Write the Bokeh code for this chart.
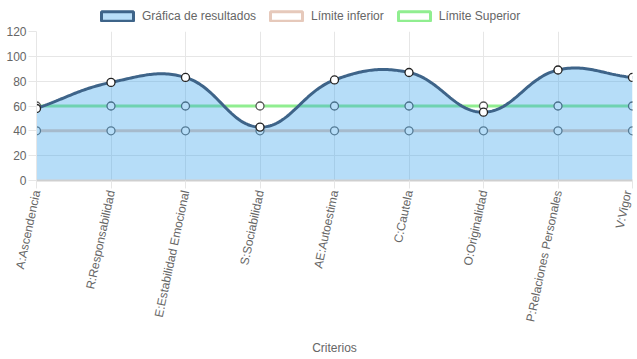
import math
from bokeh.plotting import figure
from bokeh.layouts import column
from bokeh.models import (ColumnDataSource, FixedTicker, Legend, LegendItem)
from bokeh.embed import file_html
from bokeh.resources import INLINE

categories = ["A:Ascendencia", "R:Responsabilidad", "E:Estabilidad Emocional",
              "S:Sociabilidad", "AE:Autoestima", "C:Cautela", "O:Originalidad",
              "P:Relaciones Personales", "V:Vigor"]
resultados = [58, 79, 83, 43, 81, 87, 55, 89, 83]
limite_inferior = [40, 40, 40, 40, 40, 40, 40, 40, 40]
limite_superior = [60, 60, 60, 60, 60, 60, 60, 60, 60]
y_ticks = [0, 20, 40, 60, 80, 100, 120]

FONT = "Liberation Sans"
GRID = "#e6e6e6"
TXT = "#666666"
lower_col = "#e6c9bb"
upper_col = "#90ee90"
res_col = "#3e6489"

FW, FH = 596, 149
BL, BR = 36, 2
TOTAL_W = BL + FW + BR
LEG_H = 26

# ---------------- main chart ----------------
p = figure(frame_width=FW, frame_height=FH, output_backend="svg",
           toolbar_location=None,
           x_range=(0, len(categories) - 1), y_range=(0, 120),
           min_border_left=BL, min_border_right=BR, min_border_top=5,
           min_border_bottom=0)
p.outline_line_color = None
p.background_fill_color = "white"

xs = list(range(len(categories)))

# smooth curve like Chart.js (tension 0.4), computed in pixel space
px_per_x = FW / (len(categories) - 1)
px_per_y = FH / 120.0
t = 0.4
pts = [(x * px_per_x, v * px_per_y) for x, v in zip(xs, resultados)]
n = len(pts)
cps = []
for i in range(n):
    prev = pts[i - 1] if i > 0 else pts[i]
    cur = pts[i]
    nxt = pts[i + 1] if i < n - 1 else pts[i]
    d01 = math.hypot(cur[0] - prev[0], cur[1] - prev[1])
    d12 = math.hypot(nxt[0] - cur[0], nxt[1] - cur[1])
    s = d01 + d12
    fa = t * d01 / s if s else 0
    fb = t * d12 / s if s else 0
    c1 = (cur[0] - fa * (nxt[0] - prev[0]), cur[1] - fa * (nxt[1] - prev[1]))
    c2 = (cur[0] + fb * (nxt[0] - prev[0]), cur[1] + fb * (nxt[1] - prev[1]))
    cps.append((c1, c2))

def cap(pt):
    x = min(max(pt[0], 0), FW)
    y = min(max(pt[1], 0), 120 * px_per_y)
    return (x, y)

cx, cy = [], []
steps = 40
for i in range(n - 1):
    p0 = pts[i]
    p1 = cap(cps[i][1])
    p2 = cap(cps[i + 1][0])
    p3 = pts[i + 1]
    for k in range(steps + (1 if i == n - 2 else 0)):
        u = k / steps
        a = (1 - u) ** 3
        b = 3 * (1 - u) ** 2 * u
        c = 3 * (1 - u) * u ** 2
        d = u ** 3
        X = a * p0[0] + b * p1[0] + c * p2[0] + d * p3[0]
        Y = a * p0[1] + b * p1[1] + c * p2[1] + d * p3[1]
        cx.append(X / px_per_x)
        cy.append(Y / px_per_y)

p.line(xs, limite_inferior, line_color=lower_col, line_width=3)
p.scatter(xs, limite_inferior, size=8, fill_color="white", line_color="#666666",
          line_width=1.3)
p.line(xs, limite_superior, line_color=upper_col, line_width=3)
p.scatter(xs, limite_superior, size=8, fill_color="white", line_color="#555555",
          line_width=1.3)

p.varea(x=cx, y1=[0] * len(cx), y2=cy, fill_color="#36a2eb", fill_alpha=0.36)
p.line(cx, cy, line_color=res_col, line_width=3)
p.scatter(xs, resultados, size=8, fill_color="white", line_color="#222222",
          line_width=1.3)

p.xaxis.ticker = FixedTicker(ticks=xs)
p.xaxis.major_label_overrides = {float(i): c for i, c in enumerate(categories)}
p.xaxis.major_label_orientation = math.radians(78)
p.xaxis.axis_label = "Criterios"
p.xaxis.axis_label_standoff = 13
p.xaxis.axis_label_text_font = FONT
p.xaxis.axis_label_text_font_style = "normal"
p.xaxis.axis_label_text_font_size = "12px"
p.xaxis.axis_label_text_color = TXT
p.yaxis.ticker = FixedTicker(ticks=y_ticks)
for ax in (p.xaxis, p.yaxis):
    ax.major_label_text_font = FONT
    ax.major_label_text_font_size = "12px"
    ax.major_label_text_color = TXT
    ax.major_tick_line_color = GRID
    ax.major_tick_in = 0
    ax.minor_tick_line_color = None
    ax.major_label_standoff = 2
p.xaxis.major_tick_out = 8
p.yaxis.major_tick_out = 8
p.xaxis.axis_line_color = "#cfcfcf"
p.xaxis.axis_line_width = 2
p.yaxis.axis_line_color = GRID
p.xgrid.ticker = FixedTicker(ticks=xs)
p.ygrid.ticker = FixedTicker(ticks=y_ticks)
p.xgrid.grid_line_color = GRID
p.ygrid.grid_line_color = GRID

# ---------------- legend strip ----------------
lg = figure(width=TOTAL_W, height=LEG_H, output_backend="svg",
            toolbar_location=None, x_range=(0, 1), y_range=(0, 1),
            min_border=0)
lg.axis.visible = False
lg.grid.visible = False
lg.outline_line_color = None
src_dummy = ColumnDataSource(dict(l=[-5], r=[-4], b=[-5], t=[-4]))
r1 = lg.quad(left="l", right="r", bottom="b", top="t", source=src_dummy,
             fill_color="#b9def8", line_color=res_col, line_width=3)
r2 = lg.quad(left="l", right="r", bottom="b", top="t", source=src_dummy,
             fill_color="white", line_color=lower_col, line_width=3)
r3 = lg.quad(left="l", right="r", bottom="b", top="t", source=src_dummy,
             fill_color="white", line_color=upper_col, line_width=3)
legend = Legend(items=[LegendItem(label="Gráfica de resultados", renderers=[r1]),
                       LegendItem(label="Límite inferior", renderers=[r2]),
                       LegendItem(label="Límite Superior", renderers=[r3])],
                orientation="horizontal", location=(61, 3),
                glyph_width=40, glyph_height=12, label_standoff=5, spacing=10,
                padding=4, margin=0, border_line_color=None,
                background_fill_alpha=0,
                label_text_font=FONT, label_text_font_size="12px",
                label_text_color=TXT, label_height=12)
lg.add_layout(legend)

layout = column(lg, p, spacing=0)
open("out.html", "w").write(file_html(layout, INLINE))
